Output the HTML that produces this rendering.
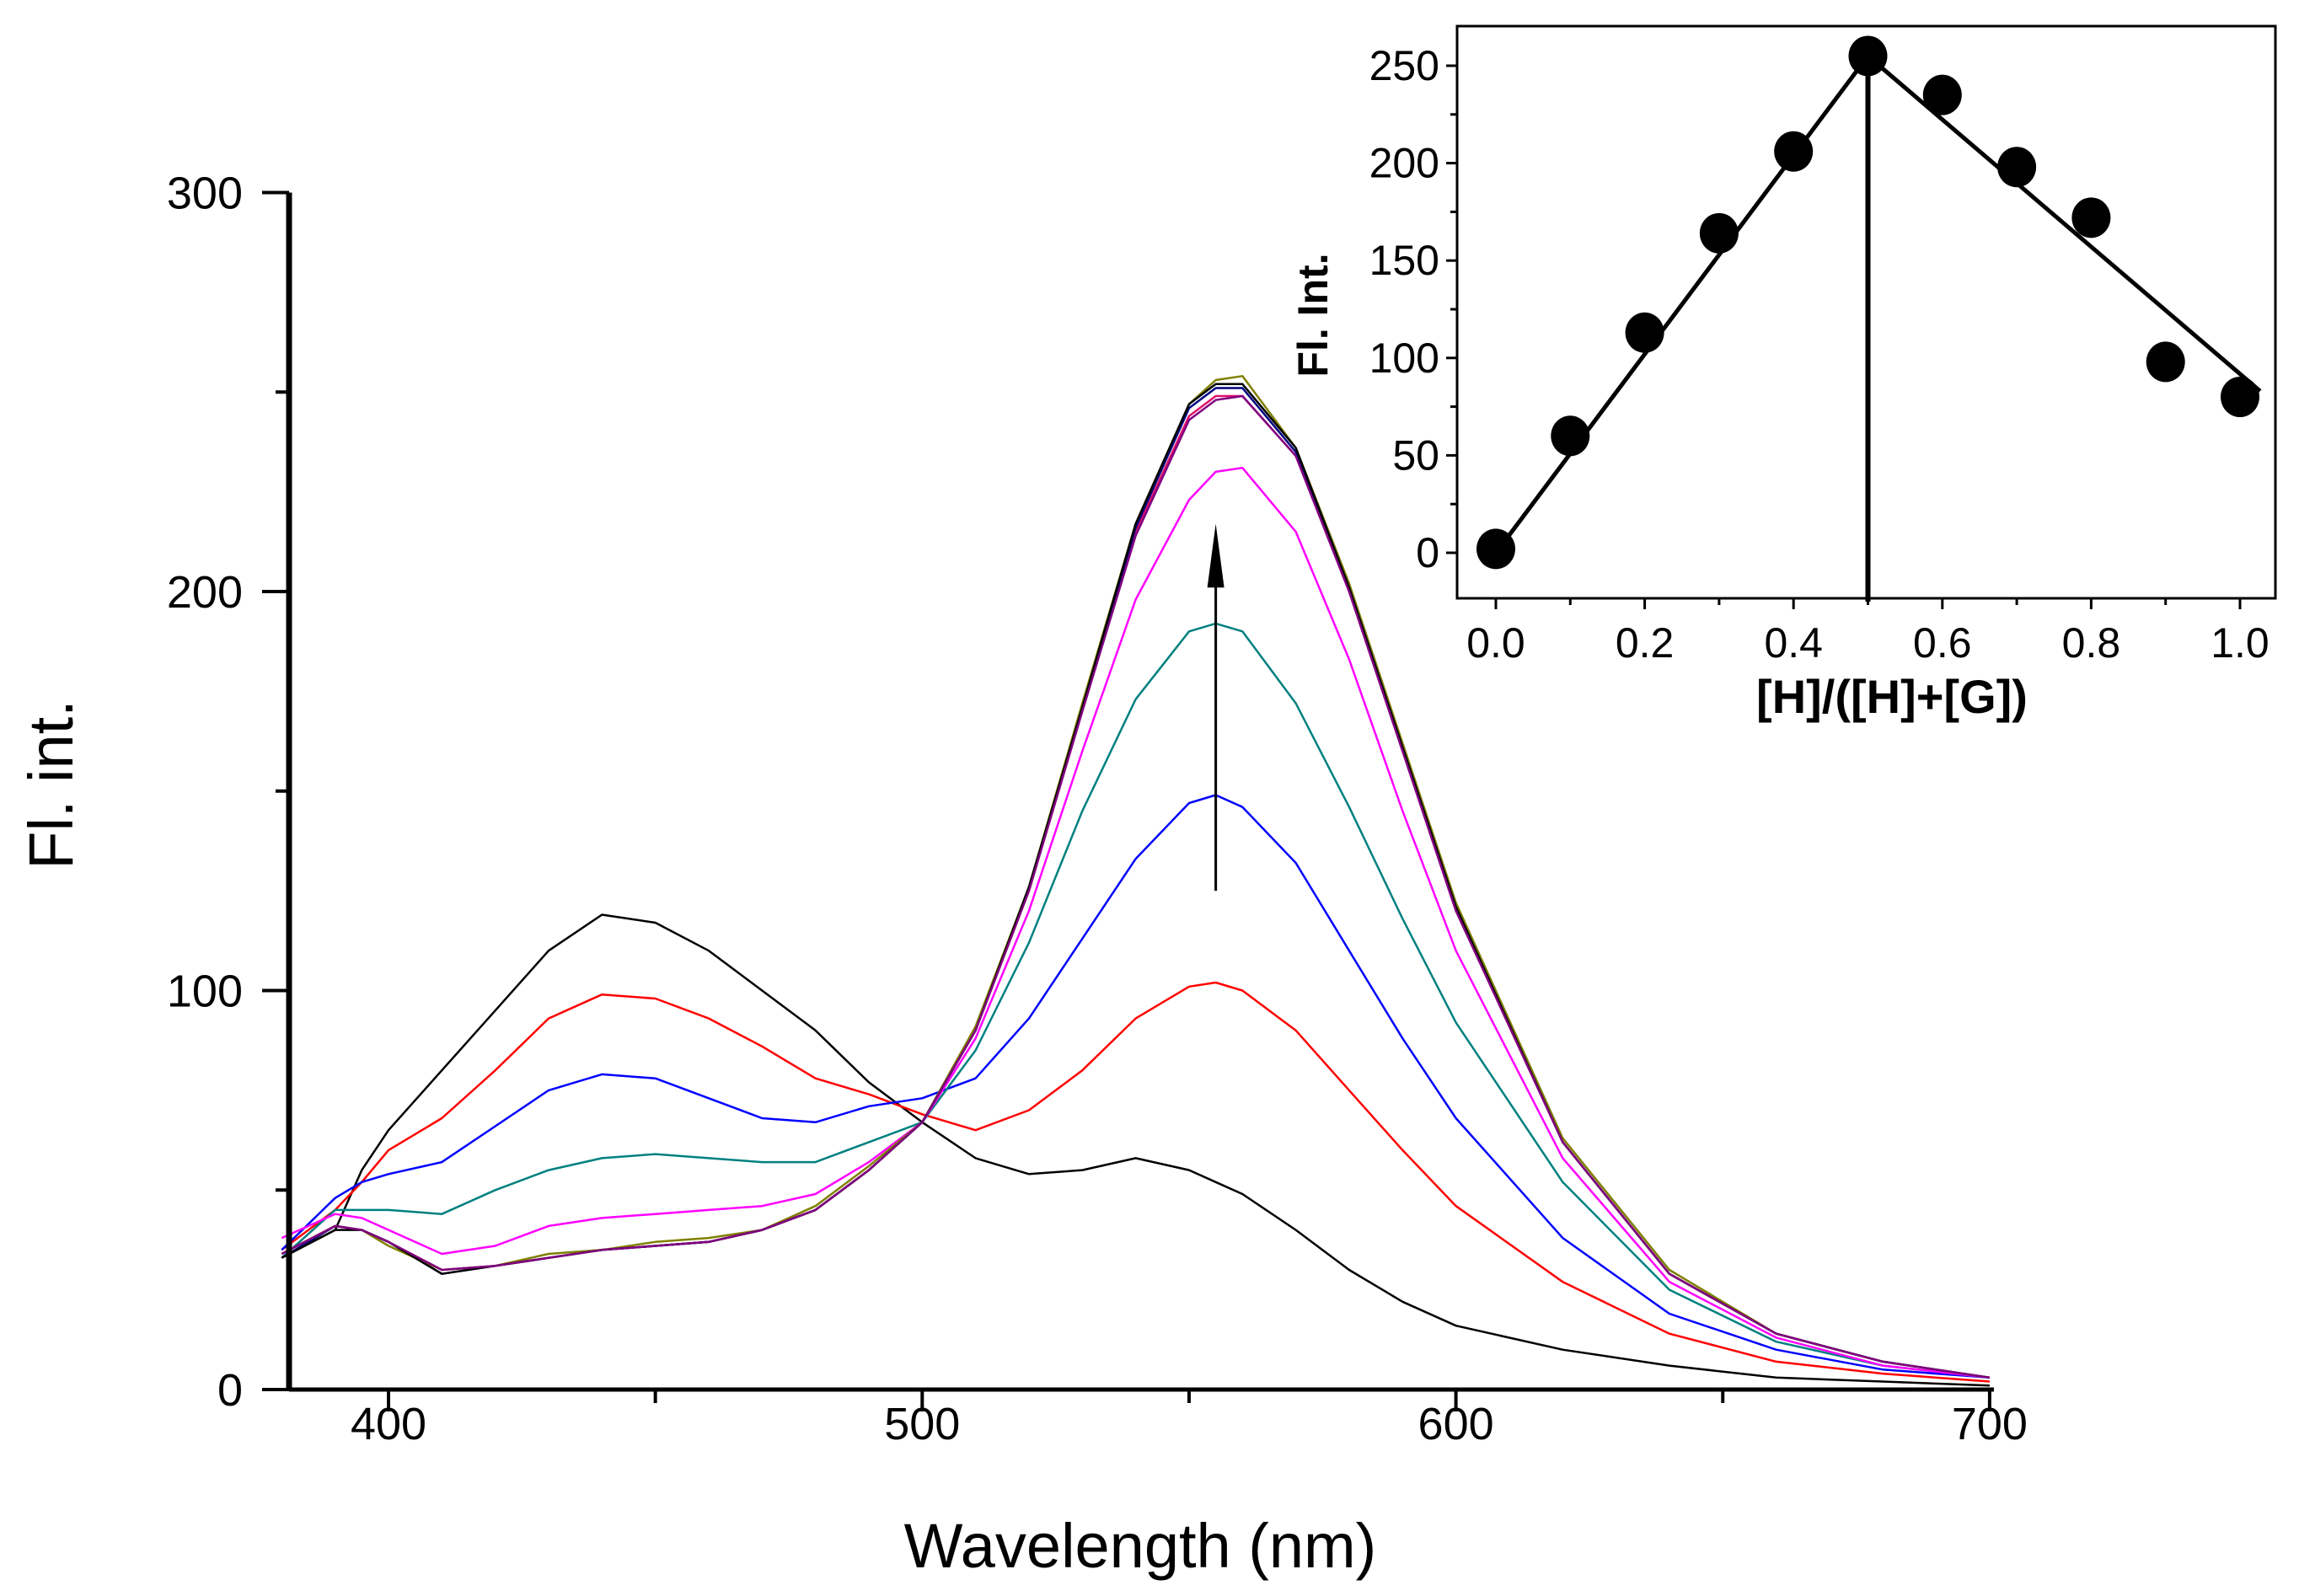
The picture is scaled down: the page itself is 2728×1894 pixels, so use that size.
<!DOCTYPE html>
<html><head><meta charset="utf-8"><style>
html,body{margin:0;padding:0;background:#fff;}
svg{display:block;font-family:"Liberation Sans",Arial,sans-serif;}
</style></head><body>
<svg id="chart" width="2728" height="1894" viewBox="0 0 2728 1894" xmlns="http://www.w3.org/2000/svg">
<rect width="2728" height="1894" fill="#fff"/>
<g id="main"></g>
<g id="inset"></g>
</svg>
<script>
const wl = [380,390,395,400,410,420,430,440,450,460,470,480,490,500,510,520,530,540,550,555,560,570,580,590,600,620,640,660,680,700];
const sBlack0 = [33,40,55,65,80,95,110,119,117,110,100,90,77,67,58,54,55,58,55,52,49,40,30,22,16,10,6,3,2,1];
const sRed = [35,45,52,60,68,80,93,99,98,93,86,78,74,69,65,70,80,93,101,102,100,90,75,60,46,27,14,7,4,2];
const sBlue = [35,48,52,54,57,66,75,79,78,73,68,67,71,73,78,93,113,133,147,149,146,132,110,88,68,38,19,10,5,3];
const sTeal = [33,45,45,45,44,50,55,58,59,58,57,57,62,67,85,112,145,173,190,192,190,172,146,118,92,52,25,12,6,3];
const sMagenta = [38,44,43,40,34,36,41,43,44,45,46,49,57,67,88,120,160,198,223,230,231,215,183,145,110,58,27,13,6,3];
const sSat1 = [34,41,40,37,30,31,33,35,36,37,40,45,55,67,90,125,170,215,244,249,249,234,200,160,120,62,29,14,7,3];
const sSat2 = [33,41,40,37,29,31,33,35,36,37,40,45,55,67,90,126,171,216,246,251,251,235,201,161,121,62,29,14,7,3];
const sSat3 = [34,41,40,36,30,31,34,35,37,38,40,46,56,67,91,126,172,217,247,253,254,236,202,162,122,63,30,14,7,3];
const sSat4 = [33,40,40,37,29,31,33,35,36,37,40,45,55,67,90,126,171,217,247,252,252,236,201,161,121,62,29,14,7,3];
const sSat5 = [34,41,40,37,30,31,33,35,36,37,40,45,55,67,90,125,170,214,243,248,249,234,200,160,120,62,29,14,7,3];
const seriesList = [sBlack0,sRed,sBlue,sTeal,sMagenta,sSat1,sSat2,sSat3,sSat4,sSat5];
const seriesColors = ["#000000","#ff0000","#0000ff","#008080","#ff00ff","#e0106b","#000080","#808000","#000000","#800080"];
const xTicks = [400,500,600,700];
const yTicks = [0,100,200,300];
const inX = [0,0.1,0.2,0.3,0.4,0.5,0.6,0.7,0.8,0.9,1.0];
const inY = [2,60,113,164,206,255,235,198,172,98,80];
const inXTicks = [0,0.2,0.4,0.6,0.8,1.0];
const inYTicks = [0,50,100,150,200,250];
const fitLeft = [[0.01,5],[0.5,255]];
const fitRight = [[0.5,255],[1.027,83]];

const NS="http://www.w3.org/2000/svg";
function mk(parent,tag,attrs,text){const e=document.createElementNS(NS,tag);for(const k in attrs)e.setAttribute(k,attrs[k]);if(text!==undefined)e.textContent=text;parent.appendChild(e);return e;}
const X=v=>461+(v-400)*6.333;
const Y=v=>1649-v*4.735;
const main=document.getElementById('main');

seriesList.forEach((s,i)=>{
  const d=s.map((v,j)=>(j?'L':'M')+X(wl[j]).toFixed(1)+','+Y(v).toFixed(1)).join(' ');
  const p=mk(main,'path',{d:d,fill:'none',stroke:seriesColors[i],'stroke-width':2.5,'stroke-linejoin':'round'});
  
  
});
let ax=mk(main,'line',{x1:343,y1:Y(0),x2:2366,y2:Y(0),stroke:'#000','stroke-width':5});

let ay=mk(main,'line',{x1:343,y1:Y(0)+2,x2:343,y2:Y(300),stroke:'#000','stroke-width':7});

for(let v=400;v<=700;v+=50){mk(main,'line',{x1:X(v),y1:Y(0),x2:X(v),y2:Y(0)+(v%100?16:26),stroke:'#000','stroke-width':4});}
xTicks.forEach(v=>{const t=mk(main,'text',{x:X(v),y:1708,'font-size':54,'text-anchor':'middle'},String(v));
  });
for(let v=0;v<=300;v+=50){mk(main,'line',{x1:343,y1:Y(v),x2:343-(v%100?16:32),y2:Y(v),stroke:'#000','stroke-width':4});}
yTicks.forEach(v=>{const t=mk(main,'text',{x:288,y:Y(v)+19,'font-size':54,'text-anchor':'end'},String(v));
  });
let xt=mk(main,'text',{x:1353,y:1860,'font-size':74,'text-anchor':'middle'},'Wavelength (nm)');

let yt=mk(main,'text',{x:0,y:0,'font-size':74,'text-anchor':'middle',transform:'translate(86,931) rotate(-90)'},'Fl. int.');

let ar=mk(main,'line',{x1:X(555),y1:Y(125),x2:X(555),y2:Y(205),stroke:'#000','stroke-width':3});

mk(main,'polygon',{points:`${X(555)},${Y(217)} ${X(555)-10},${Y(201)} ${X(555)+10},${Y(201)}`,fill:'#000'});

const ins=document.getElementById('inset');
const IX=v=>1775+v*883;
const IY=v=>656-v*2.312;
const L=1729,R=2700,T=31,B=710;
let fr=mk(ins,'rect',{x:L,y:T,width:R-L,height:B-T,fill:'none',stroke:'#000','stroke-width':3});

for(let i=0;i<=10;i++){mk(ins,'line',{x1:IX(i/10),y1:B,x2:IX(i/10),y2:B+(i%2?8:13),stroke:'#000','stroke-width':3});}
inXTicks.forEach(v=>{const t=mk(ins,'text',{x:IX(v),y:780,'font-size':50,'text-anchor':'middle'},v.toFixed(1));
  });
for(let v=-25;v<=275;v+=25){if(IY(v)<T||IY(v)>B)continue;mk(ins,'line',{x1:L,y1:IY(v),x2:L-(v%50?8:13),y2:IY(v),stroke:'#000','stroke-width':3});}
inYTicks.forEach(v=>{const t=mk(ins,'text',{x:1708,y:IY(v)+17,'font-size':50,'text-anchor':'end'},String(v));
  });
let ixt=mk(ins,'text',{x:2245,y:846,'font-size':56,'font-weight':'bold','text-anchor':'middle'},'[H]/([H]+[G])');

let iyt=mk(ins,'text',{x:0,y:0,'font-size':50,'font-weight':'bold','text-anchor':'middle',transform:'translate(1575,374) rotate(-90)'},'Fl. Int.');

[fitLeft,fitRight].forEach((f,i)=>{const l=mk(ins,'line',{x1:IX(f[0][0]),y1:IY(f[0][1]),x2:IX(f[1][0]),y2:IY(f[1][1]),stroke:'#000','stroke-width':5});
  });
let vl=mk(ins,'line',{x1:IX(0.5),y1:IY(255),x2:IX(0.5),y2:B+4,stroke:'#000','stroke-width':6});

inX.forEach((x,i)=>{const c=mk(ins,'ellipse',{cx:IX(x),cy:IY(inY[i]),rx:23,ry:24,fill:'#000'});
  });
</script>
</body></html>
